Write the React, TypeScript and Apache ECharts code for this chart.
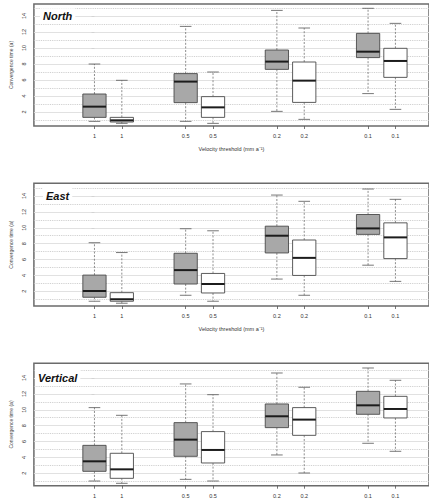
import React, { useEffect, useRef } from "react";
import * as echarts from "echarts";

// Velocity thresholds under each box (two boxes per threshold)
const thresholdLabels = ["1", "1", "0.5", "0.5", "0.2", "0.2", "0.1", "0.1"];
// Box centres along x: one group per threshold, the white box sits to the right
const groupCentres = [0, 1, 2, 3];
const pairOffset = 0.3;
const BOX_WIDTH = 0.255;

// Each row: [lower whisker, Q1, median, Q3, upper whisker], one row per threshold
const northGray = [
  [0.83, 1.33, 2.67, 4.25, 8.0],
  [0.83, 3.17, 5.8, 6.8, 12.7],
  [2.08, 7.33, 8.3, 9.75, 14.7],
  [4.3, 8.8, 9.54, 11.83, 14.96],
];
const northWhite = [
  [0.58, 0.75, 0.96, 1.33, 5.96],
  [0.58, 1.33, 2.58, 3.92, 7.0],
  [1.08, 3.2, 5.92, 8.25, 12.5],
  [2.33, 6.33, 8.38, 9.96, 13.08],
];
const eastGray = [
  [0.75, 1.25, 2.04, 4.04, 8.12],
  [1.5, 2.92, 4.67, 6.79, 9.88],
  [3.54, 6.83, 9.0, 10.2, 14.12],
  [5.29, 9.17, 9.92, 11.67, 14.88],
];
const eastWhite = [
  [0.5, 0.75, 1.0, 1.83, 6.88],
  [0.75, 1.79, 2.92, 4.25, 9.62],
  [1.5, 4.0, 6.21, 8.46, 13.33],
  [3.25, 6.12, 8.79, 10.62, 13.58],
];
const verticalGray = [
  [1.03, 2.25, 3.51, 5.52, 10.27],
  [1.24, 4.14, 6.24, 8.38, 13.25],
  [4.31, 7.75, 9.18, 10.73, 14.63],
  [5.78, 9.43, 10.56, 12.32, 15.26],
];
const verticalWhite = [
  [0.74, 1.37, 2.5, 4.52, 9.3],
  [1.03, 3.3, 4.94, 7.25, 11.9],
  [2.04, 6.78, 8.76, 10.27, 12.83],
  [4.77, 8.97, 10.1, 11.69, 13.71],
];

const yTickValues = [2, 4, 6, 8, 10, 12, 14];
const solidGridValues = [2, 4, 6, 8, 10, 12, 14];
const dottedGridValues = [1, 3, 5, 7, 9, 11, 13, 15];

const FONT = '"Liberation Sans", Arial, Helvetica, sans-serif';

type Panel = {
  title: string;
  gray: number[][];
  white: number[][];
  top: number;
  height: number;
  yMin: number;
  yMax: number;
  titleX: number;
  titleY: number;
  showXName: boolean;
};

const panels: Panel[] = [
  { title: "North", gray: northGray, white: northWhite, top: 4, height: 122, yMin: 0.25, yMax: 15.5, titleX: 43, titleY: 16.7, showXName: true },
  { title: "East", gray: eastGray, white: eastWhite, top: 183.3, height: 122.7, yMin: 0.15, yMax: 15.6, titleX: 46, titleY: 196.5, showXName: true },
  { title: "Vertical", gray: verticalGray, white: verticalWhite, top: 363.3, height: 122.4, yMin: 0.44, yMax: 15.85, titleX: 38, titleY: 378.5, showXName: false },
];

const boxPositions: number[] = [];
groupCentres.forEach((c) => {
  boxPositions.push(c, c + pairOffset);
});

const labelFor = (v: number) => {
  const i = boxPositions.findIndex((p) => Math.abs(p - v) < 1e-6);
  return i >= 0 ? thresholdLabels[i] : "";
};

const makeRenderItem = (fill: string) => (_params: any, api: any) => {
  const x = api.value(0);
  const [cx, yLo] = api.coord([x, api.value(1)]);
  const yQ1 = api.coord([x, api.value(2)])[1];
  const yMed = api.coord([x, api.value(3)])[1];
  const yQ3 = api.coord([x, api.value(4)])[1];
  const yHi = api.coord([x, api.value(5)])[1];
  const w = api.size([BOX_WIDTH, 0])[0];
  const half = w / 2;
  const cap = w / 4;
  const whisker = { stroke: "#707070", lineWidth: 0.8, lineDash: [2, 1.6] };
  const capStyle = { stroke: "#555", lineWidth: 0.8 };
  return {
    type: "group",
    children: [
      { type: "line", shape: { x1: cx, y1: yQ3, x2: cx, y2: yHi }, style: whisker },
      { type: "line", shape: { x1: cx, y1: yQ1, x2: cx, y2: yLo }, style: whisker },
      { type: "line", shape: { x1: cx - cap, y1: yHi, x2: cx + cap, y2: yHi }, style: capStyle },
      { type: "line", shape: { x1: cx - cap, y1: yLo, x2: cx + cap, y2: yLo }, style: capStyle },
      {
        type: "rect",
        shape: { x: cx - half, y: yQ3, width: w, height: yQ1 - yQ3 },
        style: { fill, stroke: "#4a4a4a", lineWidth: 0.9 },
      },
      {
        type: "line",
        shape: { x1: cx - half, y1: yMed, x2: cx + half, y2: yMed },
        style: { stroke: "#1c1c1c", lineWidth: 2 },
      },
    ],
  };
};

const toItems = (rows: number[][], offset: number) =>
  rows.map((r, i) => [groupCentres[i] + offset, ...r]);

function buildOption() {
  const grid: any[] = [];
  const xAxis: any[] = [];
  const yAxis: any[] = [];
  const series: any[] = [];
  const graphic: any[] = [];

  panels.forEach((p, k) => {
    grid.push({
      left: 32,
      right: -12,
      top: p.top,
      height: p.height,
      show: true,
      borderColor: "#6b6b6b",
      borderWidth: 1.5,
      backgroundColor: "transparent",
    });
    xAxis.push({
      type: "value",
      gridIndex: k,
      min: -0.664,
      max: 3.668,
      axisLine: { show: false },
      splitLine: { show: false },
      axisTick: { show: true, length: 3, customValues: boxPositions, lineStyle: { color: "#555", width: 0.8 } },
      axisLabel: {
        customValues: boxPositions,
        formatter: (v: number) => labelFor(v),
        fontSize: 5.5,
        color: "#333",
        fontFamily: FONT,
        margin: 7,
      },
      name: p.showXName ? "Velocity threshold (mm a\u207B\u00B9)" : "",
      nameLocation: "middle",
      nameGap: 20,
      nameTextStyle: { fontSize: 5.5, color: "#333", fontFamily: FONT },
    });
    yAxis.push({
      type: "value",
      gridIndex: k,
      min: p.yMin,
      max: p.yMax,
      axisLine: { show: false },
      splitLine: { show: false },
      axisTick: { show: true, length: 3, customValues: yTickValues, lineStyle: { color: "#555", width: 0.8 } },
      axisLabel: {
        customValues: yTickValues,
        rotate: 90,
        fontSize: 5.5,
        color: "#333",
        fontFamily: FONT,
        margin: 7,
      },
      name: "Convergence time (a)",
      nameLocation: "middle",
      nameGap: 19,
      nameTextStyle: { fontSize: 5, color: "#444", fontFamily: FONT },
    });

    const gridLines = [
      ...solidGridValues.map((v) => ({
        yAxis: v,
        lineStyle: { color: "#dedede", width: 0.9, type: "solid" },
      })),
      ...dottedGridValues
        .filter((v) => v > p.yMin && v < p.yMax)
        .map((v) => ({
          yAxis: v,
          lineStyle: { color: "#c6c6c6", width: 0.9, type: "dotted" },
        })),
    ];

    series.push({
      type: "custom",
      xAxisIndex: k,
      yAxisIndex: k,
      data: toItems(p.gray, 0),
      encode: { x: 0, y: [1, 2, 3, 4, 5] },
      renderItem: makeRenderItem("#a8a8a8"),
      z: 3,
      silent: true,
      markLine: {
        silent: true,
        symbol: "none",
        z: 1,
        label: { show: false },
        animation: false,
        data: gridLines,
      },
    });
    series.push({
      type: "custom",
      xAxisIndex: k,
      yAxisIndex: k,
      data: toItems(p.white, pairOffset),
      encode: { x: 0, y: [1, 2, 3, 4, 5] },
      renderItem: makeRenderItem("#ffffff"),
      z: 3,
      silent: true,
    });

    graphic.push({
      type: "text",
      left: p.titleX - 3,
      top: p.titleY - 8.5,
      z: 10,
      style: {
        text: p.title,
        fontSize: 11,
        fontWeight: "bold",
        fontStyle: "italic",
        fontFamily: FONT,
        fill: "#111",
        backgroundColor: "#fff",
        padding: [2, 3, 2, 3],
      },
    });
  });

  return { animation: false, backgroundColor: "#fff", grid, xAxis, yAxis, series, graphic };
}

export default function App() {
  const ref = useRef<HTMLDivElement>(null);
  useEffect(() => {
    if (!ref.current) return;
    const chart = echarts.init(ref.current, undefined, { renderer: "svg" });
    chart.setOption(buildOption() as any);
    return () => chart.dispose();
  }, []);
  return (
    <div
      ref={ref}
      style={{ position: "fixed", left: 0, top: 0, width: 429, height: 501, background: "#fff" }}
    />
  );
}
